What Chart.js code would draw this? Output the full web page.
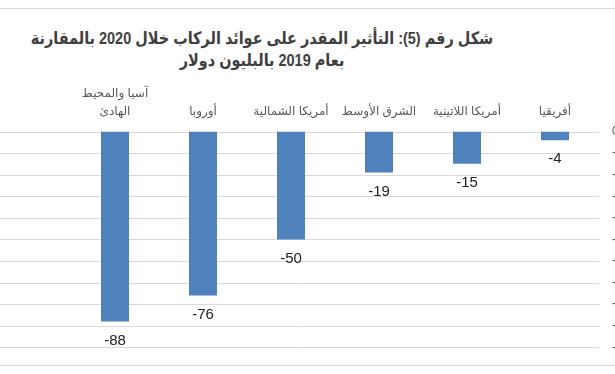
<!DOCTYPE html>
<html lang="ar">
<head>
<meta charset="utf-8">
<script src="https://cdn.jsdelivr.net/npm/chart.js@4/dist/chart.umd.min.js"></script>
<style>
  html, body { margin: 0; padding: 0; background: #fff; overflow: hidden; }
  body { width: 615px; height: 374px; position: relative; }
  .frame-line { position: absolute; left: 0; width: 615px; height: 0; border-top: 1px solid #d9d9d9; }
  #title {
    position: absolute; left: -88px; top: 28px; width: 700px;
    white-space: nowrap;
    text-align: center; direction: rtl;
    font: bold 17px 'Liberation Sans', 'DejaVu Sans', sans-serif;
    line-height: 22px; color: #404040;
    transform: scaleX(0.85);
  }
  #chartWrap { position: absolute; left: 0; top: 0; width: 615px; height: 374px; }
</style>
</head>
<body>
<div class="frame-line" style="top:8px"></div>
<div class="frame-line" style="top:365px"></div>
<div id="title">شكل رقم (5): التأثير المقدر على عوائد الركاب خلال 2020 بالمقارنة<br>بعام 2019 بالبليون دولار</div>
<div id="chartWrap"><canvas id="revenueChart"></canvas></div>
<script>
const categories = [['آسيا والمحيط', 'الهادئ'], 'أوروبا', 'أمريكا الشمالية', 'الشرق الأوسط', 'أمريكا اللاتينية', 'أفريقيا'];
const impactValues = [-88, -76, -50, -19, -15, -4];
const axisMin = -100;
const axisMax = 0;
const axisStep = 10;

const BAR_COLOR = '#4f81bd';
const GRID_COLOR = '#d9d9d9';
const LABEL_COLOR = '#595959';

// horizontal grid lines, drawn across the whole width like the cropped original
const gridPlugin = {
  id: 'fullGrid',
  beforeDatasetsDraw: (chart) => {
    const { ctx, chartArea, scales } = chart;
    const yAxis = scales.y;
    ctx.save();
    ctx.strokeStyle = GRID_COLOR;
    ctx.lineWidth = 1;
    yAxis.ticks.forEach((tick, index) => {
      const y = Math.round(yAxis.getPixelForTick(index)) + 0.5;
      ctx.beginPath();
      ctx.moveTo(0, y);
      ctx.lineTo(chartArea.right, y);
      ctx.stroke();
    });
    ctx.restore();
  }
};

// value labels under each bar end
const valueLabelPlugin = {
  id: 'valueLabels',
  afterDatasetsDraw: (chart) => {
    const { ctx } = chart;
    const meta = chart.getDatasetMeta(0);
    ctx.save();
    ctx.font = '15px "Liberation Sans", sans-serif';
    ctx.fillStyle = '#222';
    ctx.textAlign = 'center';
    ctx.textBaseline = 'middle';
    meta.data.forEach((bar, i) => {
      ctx.fillText(String(impactValues[i]), bar.x, bar.y + 19);
    });
    ctx.restore();
  }
};

new Chart(document.getElementById('revenueChart'), {
  type: 'bar',
  plugins: [gridPlugin, valueLabelPlugin],
  data: {
    labels: categories,
    datasets: [{
      data: impactValues,
      backgroundColor: BAR_COLOR,
      borderWidth: 0,
      categoryPercentage: 1,
      barPercentage: 0.318
    }]
  },
  options: {
    responsive: true,
    maintainAspectRatio: false,
    animation: false,
    layout: { padding: { left: 71, right: 0, top: 0, bottom: 26.7 } },
    plugins: { legend: { display: false }, tooltip: { enabled: false } },
    scales: {
      x: {
        position: 'top',
        grid: { display: false, drawTicks: false },
        border: { display: false },
        ticks: {
          color: LABEL_COLOR,
          padding: 10.5,
          maxRotation: 0,
          autoSkip: false,
          font: { family: "'Liberation Sans', 'DejaVu Sans', sans-serif", size: 12, lineHeight: 1.5 }
        },
        afterFit: (axis) => { axis.height = 131.5; }
      },
      y: {
        position: 'right',
        min: axisMin,
        max: axisMax,
        grid: { display: false, drawTicks: false },
        border: { display: false },
        ticks: {
          stepSize: axisStep,
          color: LABEL_COLOR,
          padding: 13,
          font: { family: "'Liberation Sans', sans-serif", size: 12 }
        },
        afterFit: (axis) => { axis.width = 16; }
      }
    }
  }
});
</script>
</body>
</html>
